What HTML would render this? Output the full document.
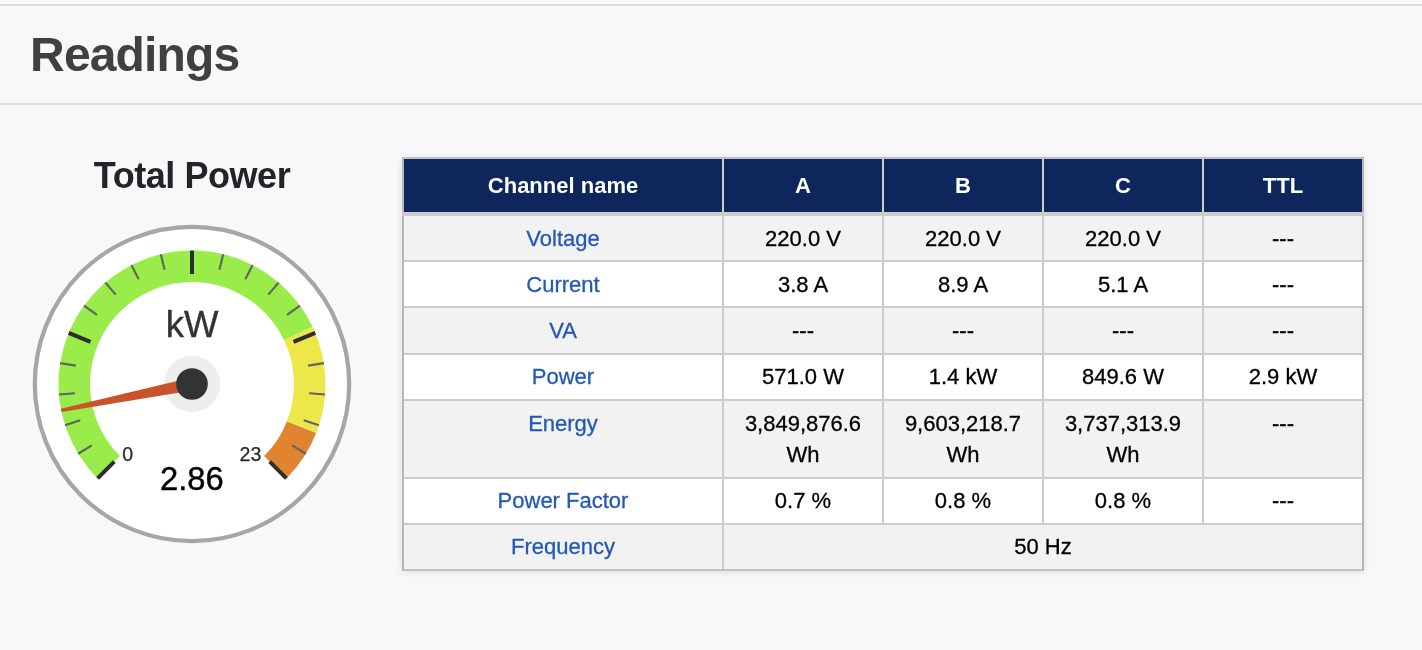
<!DOCTYPE html>
<html lang="en"><head><meta charset="utf-8"><title>Readings</title>
<style>
html,body{margin:0;padding:0}
body{width:1422px;height:650px;overflow:hidden;background:#f8f8f8;font-family:"Liberation Sans",Arial,Helvetica,sans-serif;position:relative;color:#000}
#wrap{position:absolute;left:0;top:0;width:1422px;height:650px;opacity:0.9999;will-change:transform}
.hr{position:absolute;left:0;width:1422px;height:2px;background:#dcdcdc}
h1{position:absolute;left:30.1px;top:27px;margin:0;font-size:48px;line-height:55px;font-weight:bold;color:#404040;letter-spacing:-0.86px;white-space:nowrap}
h2{position:absolute;left:0;top:155px;width:384px;margin:0;text-align:center;font-size:36px;line-height:42px;font-weight:bold;color:#212529;letter-spacing:-0.45px;white-space:nowrap}
#gauge{position:absolute;left:0;top:0}
#tbl{position:absolute;left:402px;top:157px;width:962px;height:414px;background:#cccccc;box-shadow:0 1px 8px rgba(0,0,0,0.12);}
#tbl:after{content:"";position:absolute;left:0;top:0;right:0;bottom:0;border:2px solid #b6b6b6;border-top-color:#c3c2bf;border-bottom-color:#c2c2c2;pointer-events:none}
.c{position:absolute;box-sizing:border-box;text-align:center;font-size:22px;line-height:31px;padding-top:6.9px;white-space:nowrap;-webkit-text-stroke:0.3px currentColor}
.th{background:#0d275d;color:#fff;font-weight:bold;padding-top:10.8px;-webkit-text-stroke:0}
.odd{background:#f2f2f2}
.even{background:#ffffff}
.c a{color:#2359b6;text-decoration:none}
</style></head>
<body>
<div id="wrap">
<div class="hr" style="top:4px"></div>
<h1>Readings</h1>
<div class="hr" style="top:102.5px"></div>
<h2>Total Power</h2>
<svg id="gauge" width="400" height="600" viewBox="0 0 400 600" font-family="Liberation Sans, Arial, sans-serif">
<circle cx="192.0" cy="384.0" r="157.2" fill="#ffffff" stroke="#a6a6a6" stroke-width="4.2"/>
<path d="M97.60 478.40 A133.5 133.5 0 1 1 312.56 326.66 L284.11 340.19 A102.0 102.0 0 1 0 119.88 456.12 Z" fill="#99ec49"/>
<path d="M312.56 326.66 A133.5 133.5 0 0 1 316.19 432.98 L286.89 421.42 A102.0 102.0 0 0 0 284.11 340.19 Z" fill="#eee74a"/>
<path d="M316.19 432.98 A133.5 133.5 0 0 1 286.40 478.40 L264.12 456.12 A102.0 102.0 0 0 0 286.89 421.42 Z" fill="#e08430"/>
<path d="M78.17 453.75L91.81 445.39M65.03 425.25L80.25 420.31M58.91 394.47L74.86 393.22M60.14 363.12L75.95 365.62M84.00 305.53L96.94 314.94M105.30 282.49L115.69 294.65M131.39 265.05L138.66 279.31M160.84 254.19L164.57 269.75M223.16 254.19L219.43 269.75M252.61 265.05L245.34 279.31M278.70 282.49L268.31 294.65M300.00 305.53L287.06 314.94M323.86 363.12L308.05 365.62M325.09 394.47L309.14 393.22M318.97 425.25L303.75 420.31M305.83 453.75L292.19 445.39" stroke="#626268" stroke-width="2.1" fill="none"/>
<path d="M97.60 478.40L114.29 461.71M68.66 332.91L90.47 341.94M192.00 250.50L192.00 274.10M315.34 332.91L293.53 341.94M286.40 478.40L269.71 461.71" stroke="#2e2e2e" stroke-width="4" fill="none"/>
<text x="192" y="336.9" text-anchor="middle" font-size="36.5" fill="#333333" stroke="#333333" stroke-width="0.4">kW</text>
<text x="127.6" y="460.8" text-anchor="middle" font-size="19.6" fill="#2a2a2a" stroke="#2a2a2a" stroke-width="0.25">0</text>
<text x="250.4" y="460.8" text-anchor="middle" font-size="19.6" fill="#2a2a2a" stroke="#2a2a2a" stroke-width="0.25">23</text>
<text x="191.8" y="490.1" text-anchor="middle" font-size="32.7" fill="#000000" stroke="#000000" stroke-width="0.4">2.86</text>
<circle cx="192.0" cy="384.0" r="28.2" fill="#eeeeee"/>
<polygon points="190.71,377.63 60.81,408.78 61.48,412.11 193.29,390.37" fill="#c9532a"/>
<circle cx="192.0" cy="384.0" r="15.8" fill="#333333"/>
</svg>
<div id="tbl">
<div class="c th" style="left:2px;top:2px;width:318px;height:53px">Channel name</div>
<div class="c th" style="left:322px;top:2px;width:158px;height:53px">A</div>
<div class="c th" style="left:482px;top:2px;width:158px;height:53px">B</div>
<div class="c th" style="left:642px;top:2px;width:158px;height:53px">C</div>
<div class="c th" style="left:802px;top:2px;width:158px;height:53px">TTL</div>
<div class="c odd" style="left:2px;top:59px;width:318px;height:44px;padding-top:7.1px"><a>Voltage</a></div>
<div class="c odd" style="left:322px;top:59px;width:158px;height:44px;padding-top:7.1px">220.0 V</div>
<div class="c odd" style="left:482px;top:59px;width:158px;height:44px;padding-top:7.1px">220.0 V</div>
<div class="c odd" style="left:642px;top:59px;width:158px;height:44px;padding-top:7.1px">220.0 V</div>
<div class="c odd" style="left:802px;top:59px;width:158px;height:44px;padding-top:7.1px">---</div>
<div class="c even" style="left:2px;top:105px;width:318px;height:44px;padding-top:6.9px"><a>Current</a></div>
<div class="c even" style="left:322px;top:105px;width:158px;height:44px;padding-top:6.9px">3.8 A</div>
<div class="c even" style="left:482px;top:105px;width:158px;height:44px;padding-top:6.9px">8.9 A</div>
<div class="c even" style="left:642px;top:105px;width:158px;height:44px;padding-top:6.9px">5.1 A</div>
<div class="c even" style="left:802px;top:105px;width:158px;height:44px;padding-top:6.9px">---</div>
<div class="c odd" style="left:2px;top:151px;width:318px;height:45px;padding-top:6.9px"><a>VA</a></div>
<div class="c odd" style="left:322px;top:151px;width:158px;height:45px;padding-top:6.9px">---</div>
<div class="c odd" style="left:482px;top:151px;width:158px;height:45px;padding-top:6.9px">---</div>
<div class="c odd" style="left:642px;top:151px;width:158px;height:45px;padding-top:6.9px">---</div>
<div class="c odd" style="left:802px;top:151px;width:158px;height:45px;padding-top:6.9px">---</div>
<div class="c even" style="left:2px;top:198px;width:318px;height:44px;padding-top:5.9px"><a>Power</a></div>
<div class="c even" style="left:322px;top:198px;width:158px;height:44px;padding-top:5.9px">571.0 W</div>
<div class="c even" style="left:482px;top:198px;width:158px;height:44px;padding-top:5.9px">1.4 kW</div>
<div class="c even" style="left:642px;top:198px;width:158px;height:44px;padding-top:5.9px">849.6 W</div>
<div class="c even" style="left:802px;top:198px;width:158px;height:44px;padding-top:5.9px">2.9 kW</div>
<div class="c odd" style="left:2px;top:244px;width:318px;height:76px;padding-top:6.7px"><a>Energy</a></div>
<div class="c odd" style="left:322px;top:244px;width:158px;height:76px;padding-top:6.7px">3,849,876.6<br>Wh</div>
<div class="c odd" style="left:482px;top:244px;width:158px;height:76px;padding-top:6.7px">9,603,218.7<br>Wh</div>
<div class="c odd" style="left:642px;top:244px;width:158px;height:76px;padding-top:6.7px">3,737,313.9<br>Wh</div>
<div class="c odd" style="left:802px;top:244px;width:158px;height:76px;padding-top:6.7px">---</div>
<div class="c even" style="left:2px;top:322px;width:318px;height:44px;padding-top:6.1px"><a>Power Factor</a></div>
<div class="c even" style="left:322px;top:322px;width:158px;height:44px;padding-top:6.1px">0.7 %</div>
<div class="c even" style="left:482px;top:322px;width:158px;height:44px;padding-top:6.1px">0.8 %</div>
<div class="c even" style="left:642px;top:322px;width:158px;height:44px;padding-top:6.1px">0.8 %</div>
<div class="c even" style="left:802px;top:322px;width:158px;height:44px;padding-top:6.1px">---</div>
<div class="c odd" style="left:2px;top:368px;width:318px;height:44px;padding-top:5.9px"><a>Frequency</a></div>
<div class="c odd" style="left:322px;top:368px;width:638px;height:44px;padding-top:5.9px">50 Hz</div>
<div style="position:absolute;left:320px;top:2px;width:2px;height:53px;background:#cfcdca"></div>
<div style="position:absolute;left:480px;top:2px;width:2px;height:53px;background:#cfcdca"></div>
<div style="position:absolute;left:640px;top:2px;width:2px;height:53px;background:#cfcdca"></div>
<div style="position:absolute;left:800px;top:2px;width:2px;height:53px;background:#cfcdca"></div>
<div style="position:absolute;left:0;top:55px;width:962px;height:4px;background:#cccccc;z-index:3"></div>
</div>
</div>
</body></html>
